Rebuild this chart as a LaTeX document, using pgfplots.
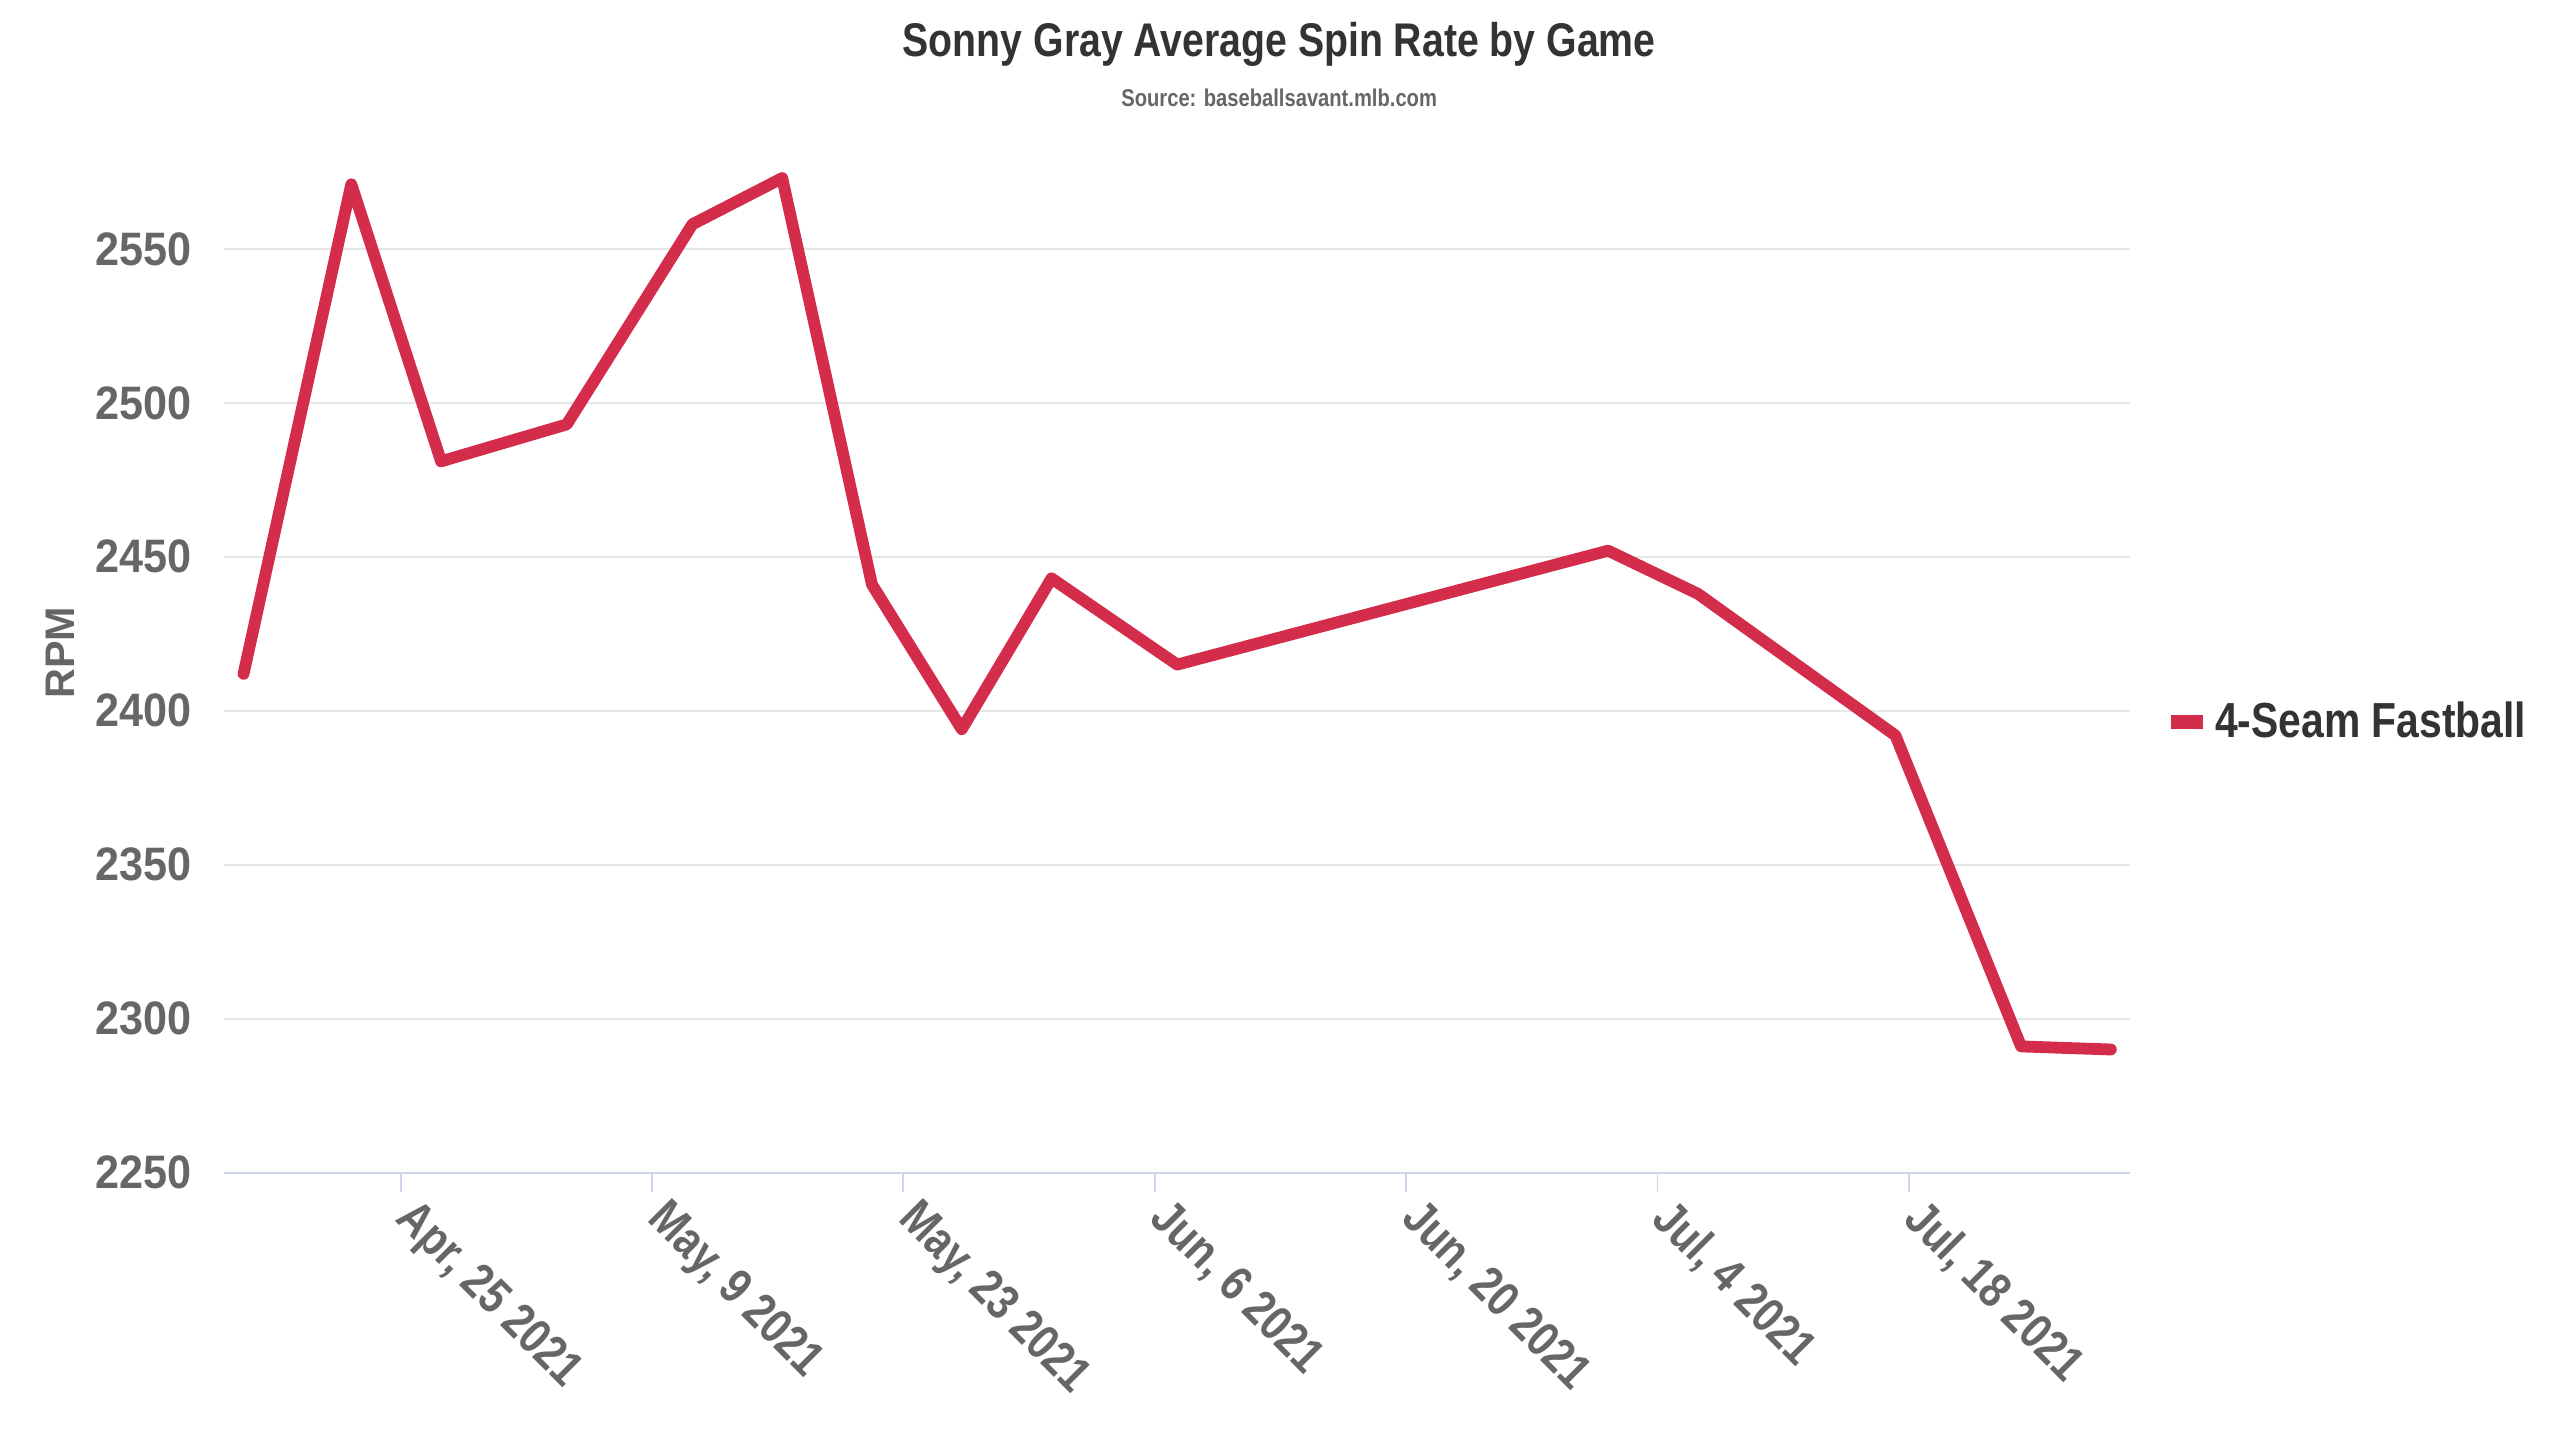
\documentclass[border=0pt]{standalone}
\usepackage{fontspec}
\setmainfont{Liberation Sans}[FakeStretch=0.83]
\newfontfamily\widefont{Liberation Sans}
\newfontfamily\tickfont{Liberation Sans}[FakeStretch=0.92]
\usepackage{pgfplots}
\pgfplotsset{compat=1.18}
\definecolor{linered}{HTML}{D42D4B}
\definecolor{txtgray}{HTML}{666666}
\definecolor{titlegray}{HTML}{333333}
\definecolor{gridgray}{HTML}{E6E6E6}
\definecolor{axisblue}{HTML}{CCD6EB}
\begin{document}
\begin{tikzpicture}
\useasboundingbox (-68.25pt,-81.45pt) rectangle (711.75pt,357.3pt);
\begin{axis}[
  at={(0pt,0pt)}, anchor=south west,
  scale only axis, width=580.7pt, height=314.3pt,
  xmin=-9.84, xmax=96.31, ymin=2250, ymax=2585,
  axis x line*=bottom, axis y line*=left,
  separate axis lines,
  x axis line style={axisblue, line width=0.6pt},
  y axis line style={draw=none},
  ymajorgrids=true,
  major grid style={gridgray, line width=0.6pt},
  xtick={0,14,28,42,56,70,84},
  xticklabels={{Apr, 25 2021},{May, 9 2021},{May, 23 2021},{Jun, 6 2021},{Jun, 20 2021},{Jul, 4 2021},{Jul, 18 2021}},
  ytick={2250,2300,2350,2400,2450,2500,2550},
  tick align=outside,
  major tick length=5.8pt,
  xtick style={axisblue, line width=0.6pt},
  ytick style={draw=none},
  /pgf/number format/assume math mode=true,
  /pgf/number format/1000 sep={},
  xticklabel style={xshift=5.6pt, yshift=-1pt, rotate=-45, anchor=north west, inner sep=0pt, font=\bfseries\fontsize{15}{18}\selectfont, text=txtgray},
  yticklabel style={anchor=east, inner sep=0pt, xshift=-3.8pt, font=\tickfont\bfseries\fontsize{14.3}{17}\selectfont, text=txtgray},
  ylabel={RPM},
  ylabel style={at={(axis description cs:-0.0858,0.504)}, anchor=center, font=\widefont\bfseries\fontsize{12.6}{14}\selectfont, text=txtgray},
  legend style={at={(axis description cs:1.0212,0.4369)}, anchor=west, draw=none, fill=none, inner sep=0pt, column sep=3.7pt, nodes={inner sep=0pt}, font=\bfseries\fontsize{15}{18}\selectfont, text=titlegray},
  legend image code/.code={\fill[linered, draw=none] (0pt,-2.13pt) rectangle (9.75pt,2.13pt);},
]
\addplot[linered, line width=3.6pt, line cap=round, line join=round] coordinates {
(-8.75,2412) (-2.75,2571) (2.25,2481) (9.25,2493) (16.25,2558) (21.25,2573) (26.25,2441) (31.25,2394)
(36.25,2443) (43.25,2415) (67.25,2452) (72.25,2438) (83.25,2392) (90.25,2291) (95.25,2290)
};
\addlegendentry{4-Seam Fastball}
\end{axis}
\node[font=\bfseries\fontsize{14.4}{17}\selectfont, text=titlegray] at (321.5pt,343.9pt) {Sonny Gray Average Spin Rate by Game};
\node[font=\bfseries\fontsize{7.4}{9}\selectfont, text=txtgray] at (321.5pt,327.4pt) {Source: baseballsavant.mlb.com};
\end{tikzpicture}
\end{document}
